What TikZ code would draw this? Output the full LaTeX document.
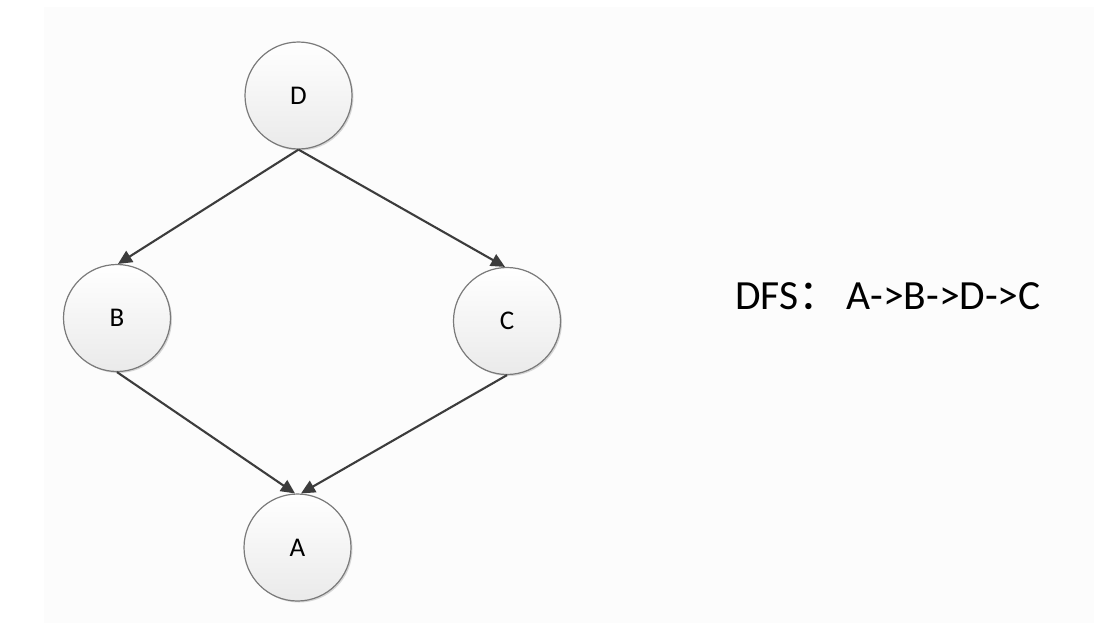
\documentclass[tikz,border=0pt]{standalone}
\usepackage{fontspec}
\setmainfont{Carlito}
\newfontfamily\cjk{Noto Sans CJK SC}
\usetikzlibrary{arrows.meta,shadows}
\definecolor{edgecol}{HTML}{3C3C3C}
\definecolor{ringcol}{HTML}{7A7A7A}
\definecolor{panelcol}{HTML}{FCFCFC}
\tikzset{
  vertex/.style={circle, draw=ringcol, line width=1.2pt, inner sep=0pt, minimum size=107pt,
    top color=white, bottom color={rgb,255:red,234;green,234;blue,234},
    font=\fontsize{27}{31}\selectfont, text=black,
    drop shadow={shadow xshift=1.5pt, shadow yshift=-1.5pt, opacity=0.15, fill=black}},
  edge/.style={draw=edgecol, line width=2.1pt, -{Triangle[length=14pt,width=13pt]}}
}
\begin{document}
\begin{tikzpicture}[x=1pt,y=-1pt]
\useasboundingbox (0,0) rectangle (1094,633);
\fill[white] (0,0) rectangle (1094,633);
\fill[panelcol] (44,7) rectangle (1094,623);
\node[vertex] (D) at (298.5,95.5) {D};
\node[vertex] (B) at (117,318) {B};
\node[vertex] (C) at (507,321) {C};
\node[vertex] (A) at (297.5,547.5) {A};
\draw[edge] (D.south) -- ([xshift=1pt]B.north);
\draw[edge] (D.south) -- ([xshift=-2pt]C.north);
\draw[edge] (B.south) -- ([xshift=-2.5pt]A.north);
\draw[edge] (C.south) -- ([xshift=3.5pt]A.north);
\node[anchor=west, inner sep=0pt, font=\fontsize{41.5}{48}\selectfont] (T) at (735,296) {DFS{\cjk ：}\,A->B->D->C};
\end{tikzpicture}
\end{document}
